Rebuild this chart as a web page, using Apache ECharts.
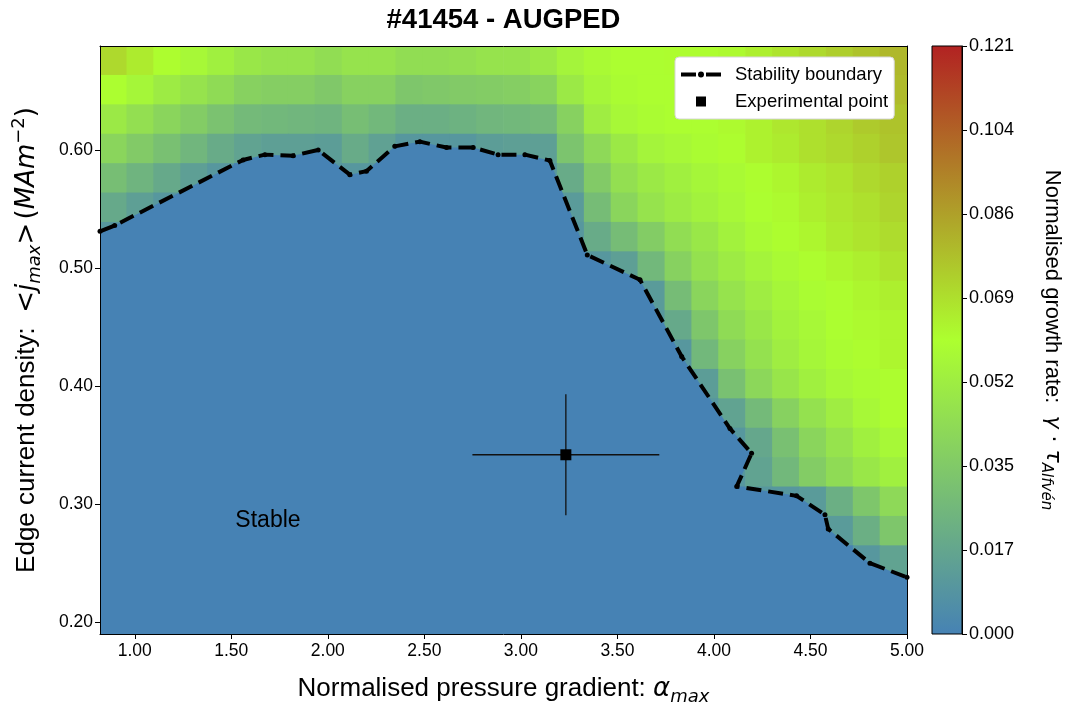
<!DOCTYPE html>
<html><head><meta charset="utf-8">
<script src="https://cdn.jsdelivr.net/npm/echarts@6/dist/echarts.min.js"></script>
<style>html,body{margin:0;padding:0;background:#fff}#chart{width:1065px;height:704px}</style>
</head><body><div id="chart"></div>
<script>
// ---------------- data ----------------
const titleText = '#41454 - AUGPED';

// heatmap cell centres
const alphaCells = [0.890,1.029,1.168,1.308,1.447,1.586,1.726,1.865,2.004,2.144,2.283,2.422,2.562,2.701,2.840,
                    2.980,3.119,3.258,3.398,3.537,3.676,3.816,3.955,4.094,4.234,4.373,4.512,4.652,4.791,4.930];
// rows listed from top to bottom
const jCells = [0.6756,0.6507,0.6258,0.6009,0.5760,0.5511,0.5262,0.5013,0.4764,0.4515,
                0.4266,0.4017,0.3768,0.3519,0.3270,0.3021,0.2772,0.2523,0.2274,0.2025];
// normalised growth rate, one row per jCells entry (top to bottom)
const growthRate = [
 [0.071,0.066,0.061,0.057,0.053,0.049,0.047,0.047,0.044,0.047,0.047,0.044,0.044,0.045,0.047,0.047,0.050,0.055,0.058,0.060,0.060,0.061,0.061,0.062,0.065,0.068,0.071,0.074,0.077,0.080],
 [0.060,0.056,0.051,0.047,0.043,0.038,0.037,0.037,0.034,0.038,0.038,0.033,0.034,0.035,0.036,0.037,0.039,0.050,0.056,0.059,0.060,0.060,0.060,0.062,0.065,0.067,0.070,0.073,0.076,0.079],
 [0.050,0.045,0.040,0.036,0.031,0.027,0.026,0.025,0.024,0.029,0.026,0.022,0.022,0.023,0.025,0.026,0.027,0.038,0.052,0.057,0.059,0.060,0.060,0.062,0.064,0.067,0.069,0.072,0.075,0.077],
 [0.040,0.035,0.030,0.025,0.020,0.016,0.014,0.014,0.013,0.020,0.015,0.010,0.010,0.010,0.013,0.014,0.014,0.032,0.042,0.050,0.055,0.057,0.059,0.061,0.064,0.066,0.069,0.071,0.073,0.076],
 [0.029,0.024,0.019,0.014,0.010,0,0,0,0.010,0.010,0.010,0,0,0,0,0,0.010,0.020,0.035,0.045,0.050,0.053,0.056,0.058,0.061,0.063,0.066,0.068,0.071,0.073],
 [0.019,0.014,0.010,0,0,0,0,0,0,0,0,0,0,0,0,0,0,0.012,0.028,0.040,0.047,0.051,0.054,0.057,0.060,0.062,0.065,0.067,0.069,0.072],
 [0.010,0,0,0,0,0,0,0,0,0,0,0,0,0,0,0,0,0.010,0.020,0.028,0.036,0.044,0.049,0.054,0.058,0.061,0.063,0.066,0.068,0.070],
 [0,0,0,0,0,0,0,0,0,0,0,0,0,0,0,0,0,0,0.010,0.014,0.026,0.038,0.046,0.051,0.055,0.058,0.061,0.063,0.065,0.068],
 [0,0,0,0,0,0,0,0,0,0,0,0,0,0,0,0,0,0,0,0,0.012,0.028,0.040,0.047,0.052,0.056,0.059,0.061,0.063,0.065],
 [0,0,0,0,0,0,0,0,0,0,0,0,0,0,0,0,0,0,0,0,0.010,0.019,0.033,0.043,0.049,0.054,0.057,0.060,0.062,0.063],
 [0,0,0,0,0,0,0,0,0,0,0,0,0,0,0,0,0,0,0,0,0,0.010,0.026,0.038,0.046,0.052,0.056,0.059,0.061,0.063],
 [0,0,0,0,0,0,0,0,0,0,0,0,0,0,0,0,0,0,0,0,0,0,0.013,0.030,0.041,0.048,0.053,0.057,0.059,0.061],
 [0,0,0,0,0,0,0,0,0,0,0,0,0,0,0,0,0,0,0,0,0,0,0.010,0.016,0.027,0.038,0.046,0.052,0.057,0.061],
 [0,0,0,0,0,0,0,0,0,0,0,0,0,0,0,0,0,0,0,0,0,0,0,0.010,0.018,0.030,0.040,0.047,0.053,0.057],
 [0,0,0,0,0,0,0,0,0,0,0,0,0,0,0,0,0,0,0,0,0,0,0,0.010,0.016,0.026,0.036,0.043,0.049,0.053],
 [0,0,0,0,0,0,0,0,0,0,0,0,0,0,0,0,0,0,0,0,0,0,0,0,0.010,0.010,0.012,0.022,0.033,0.042],
 [0,0,0,0,0,0,0,0,0,0,0,0,0,0,0,0,0,0,0,0,0,0,0,0,0,0,0,0.012,0.022,0.033],
 [0,0,0,0,0,0,0,0,0,0,0,0,0,0,0,0,0,0,0,0,0,0,0,0,0,0,0,0,0.010,0.016],
 [0,0,0,0,0,0,0,0,0,0,0,0,0,0,0,0,0,0,0,0,0,0,0,0,0,0,0,0,0,0],
 [0,0,0,0,0,0,0,0,0,0,0,0,0,0,0,0,0,0,0,0,0,0,0,0,0,0,0,0,0,0]
];

// stability boundary
const boundaryAlpha = [0.82,0.896,1.561,1.674,1.820,1.950,2.114,2.200,2.347,2.477,2.615,2.753,2.882,3.021,3.150,
                       3.344,3.617,3.833,4.083,4.195,4.118,4.428,4.575,4.592,4.808,5.0];
const boundaryJ     = [0.531,0.536,0.5915,0.596,0.595,0.600,0.579,0.582,0.603,0.607,0.602,0.602,0.596,0.596,0.591,
                       0.511,0.490,0.425,0.364,0.343,0.315,0.307,0.291,0.279,0.250,0.238];

// experimental point with error bars
const expAlpha = [3.233];
const expJ = [0.3418];
const expAlphaErr = [0.484];
const expJErr = [0.0512];

// annotation
const stableLabel = {text: 'Stable', alpha: 1.69, j: 0.2856};

// axes / ticks
const xTicks = [1.0,1.5,2.0,2.5,3.0,3.5,4.0,4.5,5.0];
const yTicks = [0.2,0.3,0.4,0.5,0.6];
const xRange = [0.82, 5.0];
const yRange = [0.19, 0.688];
const cbRange = [0, 0.121];
const cbTicks = [0, 0.017286, 0.034571, 0.051857, 0.069143, 0.086429, 0.103714, 0.121];
const cmapColors = ['#4682b4', '#adff2f', '#b22222'];

// ---------------- chart ----------------
const FONT = "'Liberation Sans', Arial, Helvetica, sans-serif";
const MATH = "'DejaVu Sans', sans-serif";

const heatData = [];
jCells.forEach((jv, r) => alphaCells.forEach((av, c) => heatData.push([av, jv, growthRate[r][c]])));
const dAlpha = (alphaCells[alphaCells.length - 1] - alphaCells[0]) / (alphaCells.length - 1);
const dJ = (jCells[0] - jCells[jCells.length - 1]) / (jCells.length - 1);

const boundaryData = boundaryAlpha.map((a, i) => [a, boundaryJ[i]]);
const expData = expAlpha.map((a, i) => [a, expJ[i], expAlphaErr[i], expJErr[i]]);

const chart = echarts.init(document.getElementById('chart'), null, {renderer: 'canvas'});

function mathRich(size, sub) {
  const lh = Math.round(size * 1.3);
  return {
    t: {fontSize: size, fontFamily: FONT, color: '#000', lineHeight: lh},
    m: {fontSize: size, fontFamily: MATH, color: '#000', lineHeight: lh},
    i: {fontSize: size, fontFamily: MATH, fontStyle: 'italic', color: '#000', lineHeight: lh},
    s: {fontSize: sub, fontFamily: MATH, fontStyle: 'italic', color: '#000', lineHeight: sub, verticalAlign: 'bottom'},
    p: {fontSize: sub, fontFamily: MATH, color: '#000', lineHeight: sub, verticalAlign: 'top'}
  };
}

const option = {
  animation: false,
  backgroundColor: '#ffffff',
  textStyle: {fontFamily: FONT},
  graphic: [{
    type: 'text', x: 503.5, y: 20, z: 20,
    style: {text: titleText, fontSize: 27.5, fontWeight: 'bold', fontFamily: FONT, fill: '#000',
            align: 'center', verticalAlign: 'middle'}
  }],
  grid: [
    {left: 100, top: 46, width: 807, height: 588, containLabel: false, outerBoundsMode: 'none'},
    {left: 932, top: 46, width: 30, height: 588, containLabel: false, outerBoundsMode: 'none'}
  ],
  visualMap: {
    type: 'continuous', show: false, min: cbRange[0], max: cbRange[1], dimension: 2, seriesIndex: 0,
    inRange: {color: cmapColors}
  },
  legend: {
    data: [
      {name: 'Stability boundary', icon: 'path://M0,4H15V8H0Z M17,6A3,3 0 1,0 23,6A3,3 0 1,0 17,6Z M25,4H40V8H25Z'},
      {name: 'Experimental point', icon: 'path://M0,0H10V10H0Z'}
    ],
    orient: 'vertical', left: 675, top: 57,
    itemWidth: 40, itemHeight: 10, itemGap: 8,
    padding: [8, 6, 8, 6],
    backgroundColor: '#ffffff', borderColor: '#d6d6d6', borderWidth: 1, borderRadius: 4,
    itemStyle: {borderWidth: 0, opacity: 1},
    textStyle: {fontSize: 18.5, color: '#000', fontFamily: FONT, padding: [0, 0, 0, 9]},
    selectedMode: false, z: 20
  },
  xAxis: [
    {
      gridIndex: 0, type: 'value', min: xRange[0], max: xRange[1], position: 'bottom', z: 6,
      axisLine: {show: true, onZero: false, lineStyle: {color: '#000', width: 1}},
      axisTick: {show: true, inside: false, length: 5, customValues: xTicks, lineStyle: {color: '#000', width: 1}},
      axisLabel: {show: true, customValues: xTicks, formatter: v => v.toFixed(2), fontSize: 17.5, color: '#000', margin: 8, fontFamily: FONT},
      splitLine: {show: false},
      name: '{t|Normalised pressure gradient: }{i|α}{s|max}',
      nameLocation: 'middle', nameGap: 38,
      nameTextStyle: {rich: mathRich(26, 18)}
    },
    {
      gridIndex: 0, type: 'value', min: xRange[0], max: xRange[1], position: 'top', z: 6,
      axisLine: {show: true, onZero: false, lineStyle: {color: '#000', width: 1}},
      axisTick: {show: false}, axisLabel: {show: false}, splitLine: {show: false}
    },
    {gridIndex: 1, type: 'value', min: 0, max: 1, show: false}
  ],
  yAxis: [
    {
      gridIndex: 0, type: 'value', min: yRange[0], max: yRange[1], position: 'left', z: 6,
      axisLine: {show: true, onZero: false, lineStyle: {color: '#000', width: 1}},
      axisTick: {show: true, inside: false, length: 5, customValues: yTicks, lineStyle: {color: '#000', width: 1}},
      axisLabel: {show: true, customValues: yTicks, formatter: v => v.toFixed(2), fontSize: 17.5, color: '#000', margin: 7, fontFamily: FONT},
      splitLine: {show: false},
      name: '{t|Edge current density:  }{m|<}{i|j}{s|max}{m|>} {m|(}{i|MAm}{p|−2}{m|)}',
      nameLocation: 'middle', nameRotate: 90, nameGap: 56,
      nameTextStyle: {rich: mathRich(26, 18)}
    },
    {
      gridIndex: 0, type: 'value', min: yRange[0], max: yRange[1], position: 'right', z: 6,
      axisLine: {show: true, onZero: false, lineStyle: {color: '#000', width: 1}},
      axisTick: {show: false}, axisLabel: {show: false}, splitLine: {show: false}
    },
    {
      gridIndex: 1, type: 'value', min: cbRange[0], max: cbRange[1], position: 'right', z: 6,
      axisLine: {show: true, onZero: false, lineStyle: {color: '#000', width: 1}},
      axisTick: {show: true, inside: false, length: 5, customValues: cbTicks, lineStyle: {color: '#000', width: 1}},
      axisLabel: {show: true, customValues: cbTicks, formatter: v => v.toFixed(3), fontSize: 18, color: '#000', margin: 7, fontFamily: FONT},
      splitLine: {show: false},
      name: '{t|Normalised growth rate:  }{i|γ}{m| · }{i|τ}{s|Alfvén}',
      nameLocation: 'middle', nameRotate: -90, nameGap: 76,
      nameTextStyle: {rich: mathRich(22, 15)}
    }
  ],
  series: [
    {
      name: 'growth', type: 'custom', xAxisIndex: 0, yAxisIndex: 0, z: 1, silent: true, clip: true,
      data: heatData, encode: {x: 0, y: 1},
      renderItem: function (params, api) {
        const a = api.value(0), j = api.value(1);
        const p0 = api.coord([a - dAlpha / 2, j + dJ / 2]);
        const p1 = api.coord([a + dAlpha / 2, j - dJ / 2]);
        return {
          type: 'rect',
          shape: {x: p0[0] - 0.4, y: p0[1] - 0.4, width: p1[0] - p0[0] + 0.8, height: p1[1] - p0[1] + 0.8},
          style: {fill: api.visual('color')}
        };
      }
    },
    {
      name: 'Stability boundary', type: 'line', xAxisIndex: 0, yAxisIndex: 0, z: 3, silent: true, clip: true,
      data: boundaryData, symbol: 'circle', symbolSize: 5, showSymbol: true,
      lineStyle: {color: '#000', width: 4, type: [15, 7], cap: 'butt'},
      itemStyle: {color: '#000', borderWidth: 0, opacity: 1},
      areaStyle: {color: cmapColors[0], opacity: 1, origin: 'start'}
    },
    {
      name: 'errorbars', type: 'custom', xAxisIndex: 0, yAxisIndex: 0, z: 4, silent: true,
      data: expData, encode: {x: 0, y: 1},
      renderItem: function (params, api) {
        const a = api.value(0), j = api.value(1), ea = api.value(2), ej = api.value(3);
        const l = api.coord([a - ea, j]), r = api.coord([a + ea, j]);
        const t = api.coord([a, j + ej]), b = api.coord([a, j - ej]);
        return {type: 'group', children: [
          {type: 'line', shape: {x1: l[0], y1: l[1], x2: r[0], y2: r[1]}, style: {stroke: '#111', lineWidth: 1.3}},
          {type: 'line', shape: {x1: t[0], y1: t[1], x2: b[0], y2: b[1]}, style: {stroke: '#111', lineWidth: 1.3}}
        ]};
      }
    },
    {
      name: 'Experimental point', type: 'scatter', xAxisIndex: 0, yAxisIndex: 0, z: 5, silent: true,
      data: expData.map(d => [d[0], d[1]]), symbol: 'rect', symbolSize: 11,
      itemStyle: {color: '#000', opacity: 1}
    },
    {
      name: 'Stable', type: 'scatter', xAxisIndex: 0, yAxisIndex: 0, z: 5, silent: true,
      data: [[stableLabel.alpha, stableLabel.j]], symbolSize: 1, itemStyle: {color: 'rgba(0,0,0,0)', opacity: 1},
      label: {show: true, position: 'inside', formatter: stableLabel.text, fontSize: 23, color: '#000',
              opacity: 1, textBorderWidth: 0, fontFamily: FONT}
    },
    {
      name: 'colorbar', type: 'custom', xAxisIndex: 2, yAxisIndex: 2, z: 2, silent: true,
      data: [[0, cbRange[1]]], encode: {x: 0, y: 1},
      renderItem: function (params, api) {
        const p0 = api.coord([0, cbRange[1]]);
        const p1 = api.coord([1, cbRange[0]]);
        return {
          type: 'rect',
          shape: {x: p0[0], y: p0[1], width: p1[0] - p0[0], height: p1[1] - p0[1]},
          style: {
            fill: {type: 'linear', x: 0, y: 1, x2: 0, y2: 0, colorStops: [
              {offset: 0, color: cmapColors[0]}, {offset: 0.5, color: cmapColors[1]}, {offset: 1, color: cmapColors[2]}]},
            stroke: '#000', lineWidth: 1
          }
        };
      }
    }
  ]
};
chart.setOption(option);
</script>
</body></html>
